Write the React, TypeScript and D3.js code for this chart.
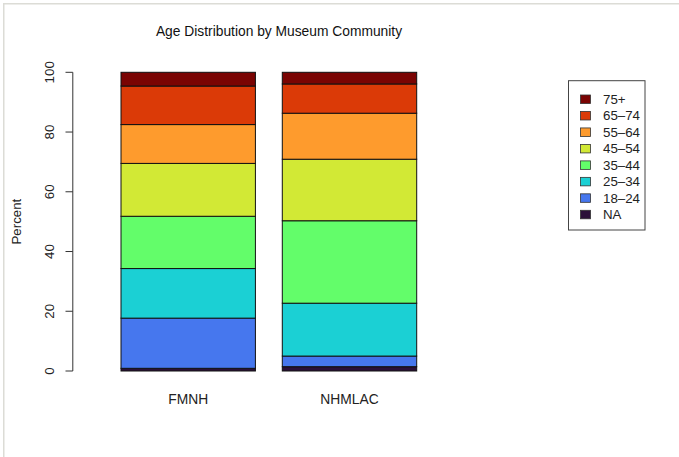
import React from "react";
import * as d3 from "d3";

const categories = ["FMNH", "NHMLAC"];
const ageGroups = ["NA", "18–24", "25–34", "35–44", "45–54", "55–64", "65–74", "75+"];
const fmnhValues = [0.9, 16.8, 16.6, 17.5, 17.7, 13.0, 12.9, 4.6];
const nhmlacValues = [1.45, 3.55, 17.7, 27.6, 20.6, 15.4, 9.8, 3.9];
const seriesColors = ["#2b1039", "#4677ee", "#1bd0d4", "#63fd6a", "#d2e935", "#fe9b2d", "#db3a07", "#7a0403"];
const yTicks = [0, 20, 40, 60, 80, 100];

const W = 679;
const H = 457;
const FONT = "'Liberation Sans', Arial, Helvetica, sans-serif";
const FS = 13.3;

export default function App() {
  const values = [fmnhValues, nhmlacValues];
  const y = d3.scaleLinear().domain([0, 100]).range([371, 72.3]);
  const x = d3
    .scaleBand<string>()
    .domain(categories)
    .range([121, 416.7])
    .paddingInner(1 / 6)
    .paddingOuter(0);

  const rows = categories.map((c, i) => {
    const obj: Record<string, number | string> = { cat: c };
    ageGroups.forEach((g, j) => (obj[g] = values[i][j]));
    return obj;
  });
  const stacked = d3.stack<any>().keys(ageGroups)(rows as any);

  const legendY = d3
    .scalePoint<string>()
    .domain([...ageGroups].reverse())
    .range([99, 214.3]);

  return (
    <svg
      width={W}
      height={H}
      style={{ position: "absolute", left: 0, top: 0, background: "#fff" }}
      fontFamily={FONT}
    >
      <rect x={0} y={0} width={W} height={H} fill="#fff" />
      {/* frame */}
      <line x1={3} x2={W} y1={3.75} y2={3.75} stroke="#dcdcd6" strokeWidth={1.5} />
      <line x1={3.75} x2={3.75} y1={3} y2={H} stroke="#dcdcd6" strokeWidth={1.5} />

      <text x={279} y={35.5} textAnchor="middle" fontSize={13.8} fill="#111">
        Age Distribution by Museum Community
      </text>

      {/* bars */}
      {stacked.map((layer, j) => (
        <g key={ageGroups[j]}>
          {layer.map((d, i) => (
            <rect
              key={categories[i]}
              x={x(categories[i])!}
              width={x.bandwidth()}
              y={y(d[1])}
              height={y(d[0]) - y(d[1])}
              fill={seriesColors[j]}
              stroke="#111"
              strokeWidth={1}
            />
          ))}
        </g>
      ))}

      {/* y axis */}
      <line x1={72.8} x2={72.8} y1={y(0)} y2={y(100)} stroke="#333" strokeWidth={1} />
      {yTicks.map((t) => (
        <g key={t}>
          <line x1={65.5} x2={72.8} y1={y(t)} y2={y(t)} stroke="#333" strokeWidth={1} />
          <text
            transform={`translate(54,${y(t)}) rotate(-90)`}
            textAnchor="middle"
            fontSize={FS}
            fill="#222"
          >
            {t}
          </text>
        </g>
      ))}
      <text
        transform={`translate(20.5,${(y(0) + y(100)) / 2}) rotate(-90)`}
        textAnchor="middle"
        fontSize={FS}
        fill="#222"
      >
        Percent
      </text>

      {/* category labels */}
      {categories.map((c) => (
        <text
          key={c}
          x={x(c)! + x.bandwidth() / 2}
          y={404}
          textAnchor="middle"
          fontSize={13.8}
          fill="#222"
        >
          {c}
        </text>
      ))}

      {/* legend */}
      <rect x={568.5} y={80.7} width={76.5} height={149.3} fill="#fff" stroke="#444" strokeWidth={1} />
      {[...ageGroups].reverse().map((g) => {
        const j = ageGroups.indexOf(g);
        const cy = legendY(g)!;
        return (
          <g key={g}>
            <rect x={580.5} y={cy - 4} width={10} height={8.5} fill={seriesColors[j]} stroke="#333" strokeWidth={0.8} />
            <text x={603} y={cy + 4.8} fontSize={FS} fill="#222">
              {g}
            </text>
          </g>
        );
      })}
    </svg>
  );
}
